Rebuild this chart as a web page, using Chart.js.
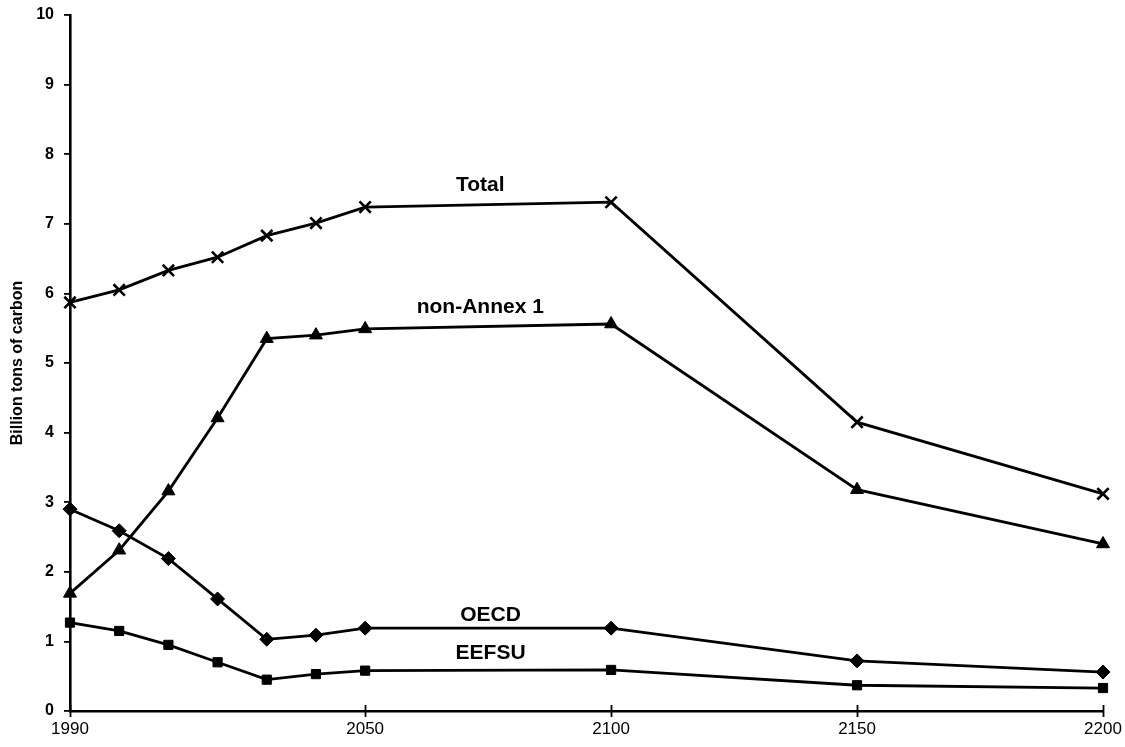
<!DOCTYPE html>
<html>
<head>
<meta charset="utf-8">
<script src="https://cdn.jsdelivr.net/npm/chart.js@4/dist/chart.umd.min.js"></script>
<style>
  html, body { margin: 0; padding: 0; background: #fff; }
  #wrap { width: 1125px; height: 747px; position: relative; }
</style>
</head>
<body>
<div id="wrap"><canvas id="c"></canvas></div>
<script>
// Carbon emissions by region, billion tons of carbon
const years = [1990, 2000, 2010, 2020, 2030, 2040, 2050, 2100, 2150, 2200];
const total = [5.87, 6.05, 6.33, 6.52, 6.83, 7.01, 7.24, 7.31, 4.15, 3.12];
const nonAnnex1 = [1.69, 2.31, 3.16, 4.21, 5.35, 5.40, 5.49, 5.56, 3.18, 2.40];
const oecd = [2.90, 2.59, 2.19, 1.61, 1.03, 1.09, 1.19, 1.19, 0.72, 0.56];
const eefsu = [1.27, 1.15, 0.95, 0.70, 0.45, 0.53, 0.58, 0.59, 0.37, 0.33];
const xTickYears = [1990, 2050, 2100, 2150, 2200];
const yTicks = [0, 1, 2, 3, 4, 5, 6, 7, 8, 9, 10];

const seriesNames = ['Total', 'non-Annex 1', 'OECD', 'EEFSU'];
// where each series name is written, in data units
const nameAnchors = [
  { x: 2073.4, y: 7.56 },
  { x: 2073.4, y: 5.80 },
  { x: 2075.5, y: 1.38 },
  { x: 2075.5, y: 0.83 }
];

const pts = vals => years.map((y, i) => ({ x: y, y: vals[i] }));

function series(label, vals, style, radius) {
  return {
    label,
    data: pts(vals),
    showLine: true,
    clip: false,
    borderColor: '#000',
    backgroundColor: '#000',
    borderWidth: 2.8,
    pointStyle: style,
    pointRadius: radius,
    pointHoverRadius: radius,
    pointBorderColor: '#000',
    pointBackgroundColor: '#000',
    pointBorderWidth: style === 'crossRot' ? 2.6 : 1,
    tension: 0
  };
}

// tick marks on the x axis cross the axis line
const crossTicks = {
  id: 'crossTicks',
  afterDraw(chart) {
    const { ctx, scales: { x, y } } = chart;
    const base = y.getPixelForValue(0);
    ctx.save();
    ctx.strokeStyle = '#000';
    ctx.lineWidth = 1.8;
    xTickYears.forEach(v => {
      const px = Math.round(x.getPixelForValue(v)) + 0.5;
      ctx.beginPath();
      ctx.moveTo(px, base - 6);
      ctx.lineTo(px, base + 6);
      ctx.stroke();
    });
    ctx.restore();
  }
};

const seriesLabels = {
  id: 'seriesLabels',
  afterDatasetsDraw(chart) {
    const { ctx, scales: { x, y } } = chart;
    ctx.save();
    ctx.fillStyle = '#000';
    ctx.font = 'bold 21px "Liberation Sans", Arial, sans-serif';
    ctx.textAlign = 'center';
    ctx.textBaseline = 'middle';
    seriesNames.forEach((name, i) => {
      const a = nameAnchors[i];
      ctx.fillText(name, x.getPixelForValue(a.x), y.getPixelForValue(a.y));
    });
    ctx.restore();
  }
};

new Chart(document.getElementById('c'), {
  type: 'scatter',
  data: {
    datasets: [
      series('Total', total, 'crossRot', 8),
      series('non-Annex 1', nonAnnex1, 'triangle', 7.5),
      series('OECD', oecd, 'rectRot', 7),
      series('EEFSU', eefsu, 'rect', 6.5)
    ]
  },
  options: {
    responsive: true,
    maintainAspectRatio: false,
    animation: false,
    events: [],
    layout: { padding: { top: 15, right: 22, bottom: 0, left: 0 } },
    plugins: {
      legend: { display: false },
      tooltip: { enabled: false }
    },
    scales: {
      x: {
        type: 'linear',
        min: 1990,
        max: 2200,
        afterBuildTicks(scale) {
          scale.ticks = xTickYears.map(v => ({ value: v }));
        },
        afterFit(scale) {
          scale.height = 36;
          scale.paddingLeft = 0;
          scale.paddingRight = 0;
        },
        border: { display: true, color: '#000', width: 2.6 },
        grid: { display: false, drawTicks: false },
        ticks: {
          color: '#000',
          padding: 8,
          maxRotation: 0,
          autoSkip: false,
          font: { family: '"Liberation Sans", Arial, sans-serif', size: 17, weight: 'normal' },
          callback: v => String(v)
        }
      },
      y: {
        type: 'linear',
        min: 0,
        max: 10,
        afterBuildTicks(scale) {
          scale.ticks = yTicks.map(v => ({ value: v }));
        },
        afterFit(scale) {
          scale.width = 70;
          scale.paddingTop = 0;
          scale.paddingBottom = 0;
        },
        border: { display: true, color: '#000', width: 2.6 },
        grid: {
          display: true,
          drawOnChartArea: false,
          drawTicks: true,
          tickLength: 6,
          color: '#000',
          lineWidth: 1.8
        },
        ticks: {
          color: '#000',
          padding: 10,
          font: { family: '"Liberation Sans", Arial, sans-serif', size: 16, weight: 'bold' }
        },
        title: {
          display: true,
          text: 'Billion tons of carbon',
          color: '#000',
          padding: { top: 8, bottom: 0 },
          font: { family: '"Liberation Sans", Arial, sans-serif', size: 16, weight: 'bold' }
        }
      }
    }
  },
  plugins: [crossTicks, seriesLabels]
});
</script>
</body>
</html>
